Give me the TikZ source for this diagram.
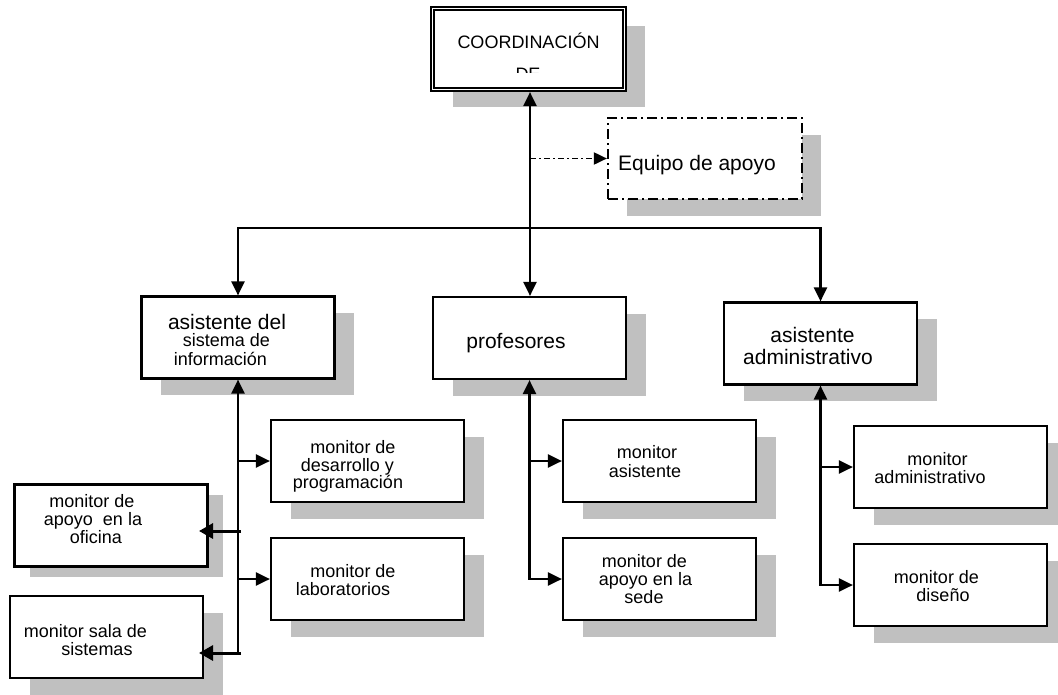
\documentclass[tikz,border=0pt]{standalone}
\usepackage{fontspec}
\setmainfont{Liberation Sans}
\usetikzlibrary{arrows.meta,shadows}
\definecolor{shadowgray}{RGB}{192,192,192}
\begin{document}
\begin{tikzpicture}[x=1pt,y=-1pt,
  t18/.style={font=\fontsize{18}{21}\selectfont, anchor=base, inner sep=0pt, text height=10pt, text depth=1pt},
  t21/.style={font=\fontsize{21}{24}\selectfont, anchor=base, inner sep=0pt, text height=11pt, text depth=1pt},
  shade std/.style={general shadow={fill=shadowgray, shadow xshift=19.5pt, shadow yshift=-16.5pt}},
  box/.style={draw, line width=2.2pt, fill=white, minimum width=193pt, minimum height=82pt,
              inner sep=0pt, outer sep=1.1pt},
  topbox/.style={draw, line width=1.7pt, double, double distance=1.8pt, fill=white,
              minimum width=192pt, minimum height=81pt, inner sep=0pt, outer sep=2.6pt,
              general shadow={fill=shadowgray, shadow xshift=20pt, shadow yshift=-17pt}},
  dashbox/.style={draw, line width=2.3pt, dash pattern=on 10pt off 4pt on 2pt off 4pt, fill=white,
              minimum width=194pt, minimum height=81pt, inner sep=0pt, outer sep=1.1pt,
              general shadow={fill=shadowgray, shadow xshift=18.5pt, shadow yshift=-17pt}},
  conn/.style={line width=2.2pt},
  arr/.style={conn, -{Triangle[length=14pt,width=13pt]}},
  backarr/.style={conn, {Triangle[length=14pt,width=13pt]}-},
  botharr/.style={conn, {Triangle[length=14pt,width=13pt]}-{Triangle[length=14pt,width=13pt]}},
  thickarr/.style={line width=3pt, -{Triangle[length=14pt,width=15pt]}},
  dasharr/.style={line width=1.9pt, dash pattern=on 6pt off 3pt on 2pt off 3pt,
              -{Triangle[length=13pt,width=12pt]}}
]
\useasboundingbox (0,0) rectangle (1058,694);

% ---- head ----
\node[topbox] (coord) at (528.5,49) {};
\node[t18] (coordA) at (528.5,48) {COORDINACIÓN};
\begin{scope}
  \clip (440,60) rectangle (620,72.5);
  \node[t18] (coordB) at (528,80) {DE};
\end{scope}

\node[dashbox] (equipo) at (705,158.5) {};
\node[t21] (equipoT) at (697,170) {Equipo de apoyo};

% ---- second level ----
\node[box, shade std] (asis) at (238,337.5) {};
\node[t21] (asisA) at (227,329.5) {asistente del};
\node[t18] (asisB) at (226.5,346.5) {sistema de};
\node[t18] (asisC) at (220.5,365) {información};

\node[box, shade std] (prof) at (529.5,338) {};
\node[t21] (profT) at (516,348) {profesores};

\node[box, shade std] (adm) at (820.5,343.5) {};
\node[t21] (admA) at (812.5,342.5) {asistente};
\node[t21] (admB) at (808,364) {administrativo};

% ---- monitors under the information assistant ----
\node[box, shade std] (mdes) at (367.5,461) {};
\node[t18] (mdesA) at (353,453) {monitor de};
\node[t18] (mdesB) at (347.5,471) {desarrollo y};
\node[t18] (mdesC) at (348,488) {programación};

\node[box, shade std] (mlab) at (367.5,579) {};
\node[t18] (mlabA) at (353,577) {monitor de};
\node[t18] (mlabB) at (343,595) {laboratorios};

\node[box, general shadow={fill=shadowgray, shadow xshift=15pt, shadow yshift=-10pt}] (mofi) at (111,525.5) {};
\node[t18] (mofiA) at (92,507) {monitor de};
\node[t18] (mofiB) at (93,525) {apoyo\ \ en la};
\node[t18] (mofiC) at (96,543) {oficina};

\node[box, shade std] (msala) at (106.5,637) {};
\node[t18] (msalaA) at (85.5,637) {monitor sala de};
\node[t18] (msalaB) at (97,655) {sistemas};

% ---- monitors under the teachers ----
\node[box, shade std] (masis) at (659.5,461) {};
\node[t18] (masisA) at (647,458) {monitor};
\node[t18] (masisB) at (645,477) {asistente};

\node[box, shade std] (msede) at (659.5,579) {};
\node[t18] (msedeA) at (644.5,567) {monitor de};
\node[t18] (msedeB) at (645.5,585) {apoyo en la};
\node[t18] (msedeC) at (644,603) {sede};

% ---- monitors under the administrative assistant ----
\node[box, shade std] (madm) at (950.5,467) {};
\node[t18] (madmA) at (937.5,465) {monitor};
\node[t18] (madmB) at (930,483) {administrativo};

\node[box, shade std] (mdis) at (950.5,585) {};
\node[t18] (mdisA) at (936.5,583) {monitor de};
\node[t18] (mdisB) at (943,601) {diseño};

% ---- connectors ----
\coordinate (hub) at (530,228);
\draw[arr] (hub) -- (hub |- coord.south);
\draw[dasharr] (hub |- equipo.west) -- (equipo.west);
\draw[arr] (hub) -| (asis.north);
\draw[arr] (hub) -- (hub |- prof.north);
\draw[arr] (hub) -| (adm.north);

\coordinate (lEnd) at (238,654);
\draw[backarr] (asis.south) -- (lEnd);
\draw[arr] (asis.south |- mdes.west) -- (mdes.west);
\draw[arr] (asis.south |- mlab.west) -- (mlab.west);
\coordinate (ofiFrom) at (241,531);
\coordinate (ofiTip) at (199,531);
\coordinate (salaFrom) at (241,653);
\coordinate (salaTip) at (199,653);
\draw[thickarr] (ofiFrom) -- (ofiTip);
\draw[thickarr] (salaFrom) -- (salaTip);

\draw[botharr] (prof.south) |- (msede.west);
\draw[arr] (prof.south |- masis.west) -- (masis.west);

\draw[botharr] (adm.south) |- (mdis.west);
\draw[arr] (adm.south |- madm.west) -- (madm.west);
\end{tikzpicture}
\end{document}
